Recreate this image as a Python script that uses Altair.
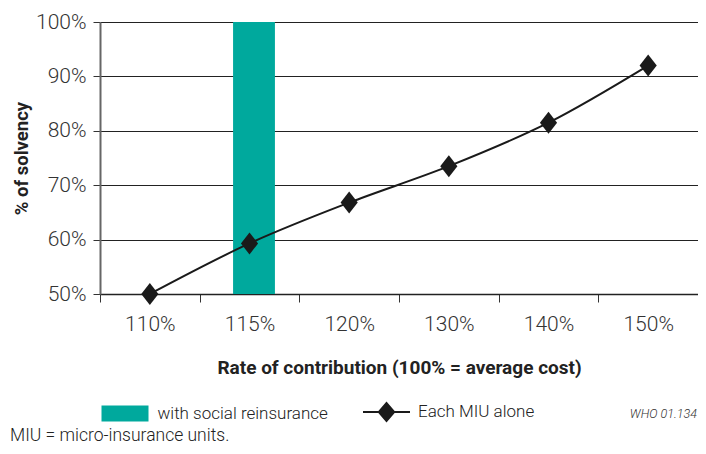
import altair as alt
import pandas as pd

categories = ["110%", "115%", "120%", "130%", "140%", "150%"]
miu_alone = [50.0, 59.3, 66.8, 73.5, 81.5, 92.0]
reins_cat = ["115%"]
reins_val = [100.0]
reins_base = [50.0]
y_ticks = [50, 60, 70, 80, 90, 100]

FONT = "Roboto"
TEAL = "#00A99D"

line_df = pd.DataFrame({"cat": categories, "val": miu_alone, "s": ["Each MIU alone"] * len(categories)})
bar_df = pd.DataFrame({"cat": reins_cat, "val": reins_val, "base": reins_base,
                       "s": ["with social reinsurance"]})

xenc = alt.X("cat:N", sort=categories, title="Rate of contribution (100% = average cost)",
             scale=alt.Scale(paddingInner=0, paddingOuter=0),
             axis=alt.Axis(tickBand="extent", labelAngle=0, tickSize=8, labelPadding=11,
                           labelFontSize=21, labelFontWeight=300, labelColor="#333", labelFont=FONT,
                           titleFont=FONT, titleFontSize=19, titleFontWeight="bold",
                           titleColor="#222", titlePadding=24, domainColor="#222",
                           tickColor="#333", domainWidth=1.5, grid=False))
yscale = alt.Scale(domain=[50, 100], zero=False, nice=False)
yaxis = alt.Axis(values=y_ticks, labelExpr="datum.value + '%'", tickSize=7, labelPadding=7,
                 labelFontSize=21, labelFontWeight=300, labelColor="#333", labelFont=FONT, grid=True,
                 gridColor="#222", gridWidth=1, domainColor="#666", domainWidth=2,
                 tickColor="#333", titleFont=FONT, titleFontSize=18.5, titleFontWeight="bold",
                 titleColor="#222", titlePadding=4)

rect_path = "M-1,-0.34H1V0.34H-1Z"
line_sym = "M-1,-0.045H1V0.045H-1Z M0,-0.447L0.383,0L0,0.447L-0.383,0Z"

bars = alt.Chart(bar_df).mark_bar(width={"band": 0.42}, xOffset=4.5).encode(
    x=xenc,
    y=alt.Y("val:Q", scale=yscale, axis=yaxis, title="% of solvency"),
    y2="base:Q",
    color=alt.Color("s:N", title=None,
                    scale=alt.Scale(domain=["with social reinsurance"], range=[TEAL]),
                    legend=alt.Legend(orient="none", legendX=1.5, legendY=368, padding=0,
                                      symbolType=rect_path, symbolSize=2209,
                                      labelFont=FONT, labelFontSize=17, labelFontWeight=300,
                                      labelColor="#222",
                                      labelOffset=9, labelLimit=400, symbolStrokeWidth=0)),
)

line = alt.Chart(line_df).mark_line(color="#1a1a1a", strokeWidth=2, interpolate="monotone").encode(
    x=alt.X("cat:N", sort=categories),
    y=alt.Y("val:Q"),
)

pts = alt.Chart(line_df).mark_point(filled=True, opacity=1,
                                    shape="M0,-1L0.78,0L0,1L-0.78,0Z", size=484).encode(
    x=alt.X("cat:N", sort=categories),
    y=alt.Y("val:Q"),
    fill=alt.Fill("s:N", title=None,
                  scale=alt.Scale(domain=["Each MIU alone"], range=["#1a1a1a"]),
                  legend=alt.Legend(orient="none", legendX=263, legendY=366.5, padding=0,
                                    symbolType=line_sym, symbolSize=2209,
                                    labelFont=FONT, labelFontSize=17, labelFontWeight=300,
                                    labelColor="#222",
                                    labelOffset=8, labelLimit=400, symbolStrokeWidth=0)),
)

who = alt.Chart(pd.DataFrame({"t": ["WHO 01.134"]})).mark_text(
    font=FONT, fontSize=12.5, fontStyle="italic", fontWeight=300, color="#333",
    align="right", baseline="middle"
).encode(text="t:N", x=alt.value(597), y=alt.value(392))

note = alt.Chart(pd.DataFrame({"t": ["MIU = micro-insurance units."]})).mark_text(
    font=FONT, fontSize=17.5, fontWeight=300, color="#222", align="left", baseline="alphabetic"
).encode(text="t:N", x=alt.value(-90), y=alt.value(419))

chart = alt.layer(bars, line, pts, who, note).resolve_scale(color="independent").properties(
    width=598, height=272,
    autosize=alt.AutoSizeParams(type="none"),
    padding={"left": 92, "top": 14, "right": 0, "bottom": 152},
).configure_view(stroke=None)

chart.save("out.html", embed_options={"renderer": "svg", "actions": False})
